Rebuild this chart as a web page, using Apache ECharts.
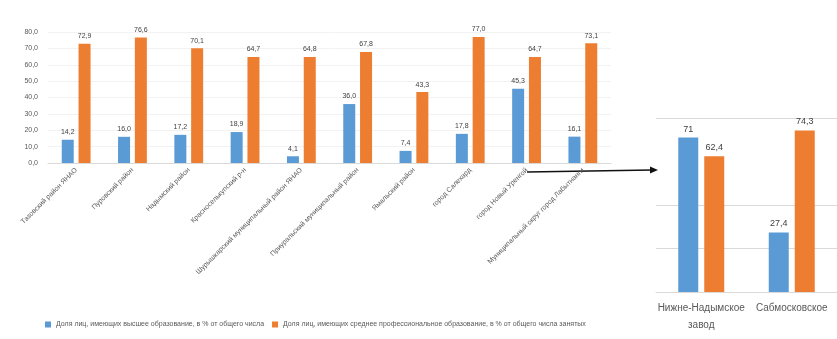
<!DOCTYPE html>
<html>
<head>
<meta charset="utf-8">
<script src="https://cdn.jsdelivr.net/npm/echarts@6/dist/echarts.min.js"></script>
<style>
  html, body { margin: 0; padding: 0; background: #fff; }
  #chart { width: 837px; height: 339px; }
</style>
</head>
<body>
<div id="chart"></div>
<script>
// Районы: доля занятых по уровню образования, %
const districts = [
  'Тазовский район ЯНАО',
  'Пуровский район',
  'Надымский район',
  'Красноселькупский р-н',
  'Шурышкарский муниципальный район ЯНАО',
  'Приуральский муниципальный район',
  'Ямальский район',
  'город Салехард',
  'город Новый Уренгой',
  'Муниципальный округ город Лабытнанги'
];
const higherShare = [14.2, 16.0, 17.2, 18.9, 4.1, 36.0, 7.4, 17.8, 45.3, 16.1];
const vocationalShare = [72.9, 76.6, 70.1, 64.7, 64.8, 67.8, 43.3, 77.0, 64.7, 73.1];

// Два месторождения
const fields = ['Нижне-Надымское\nзавод', 'Сабмосковское'];
const fieldHigher = [71, 27.4];
const fieldVocational = [62.4, 74.3];

const seriesNames = [
  'Доля лиц, имеющих высшее образование, в % от общего числа',
  'Доля лиц, имеющих среднее профессиональное образование, в % от общего числа занятых'
];

const BLUE = '#5B9BD5';
const ORANGE = '#ED7D31';
const FONT = 'Liberation Sans';
const GRID = '#d9d9d9';

const fmt = v => v.toFixed(1).replace('.', ',');
const fmtField = v => Number.isInteger(v) ? String(v) : v.toFixed(1).replace('.', ',');

const chart = echarts.init(document.getElementById('chart'), null, { renderer: 'canvas' });

chart.setOption({
  animation: false,
  textStyle: { fontFamily: FONT },
  legend: {
    left: 40,
    top: 316,
    itemWidth: 6,
    itemHeight: 6,
    itemGap: 8,
    icon: 'rect',
    textStyle: { fontSize: 7, color: '#595959', fontFamily: FONT },
    data: [seriesNames[0], seriesNames[1]]
  },
  grid: [
    { left: 48, right: 226, top: 32, bottom: 176 },
    { left: 656, width: 182, top: 118, bottom: 47 }
  ],
  xAxis: [
    {
      gridIndex: 0, type: 'category', data: districts,
      axisLine: { lineStyle: { color: GRID } },
      axisTick: { show: false },
      axisLabel: { rotate: 45, fontSize: 7, color: '#595959', margin: 6, interval: 0 }
    },
    {
      gridIndex: 1, type: 'category', data: fields,
      axisLine: { lineStyle: { color: GRID } },
      axisTick: { show: false },
      axisLabel: { fontSize: 10, color: '#595959', margin: 8, interval: 0, lineHeight: 17 }
    }
  ],
  yAxis: [
    {
      gridIndex: 0, type: 'value', min: 0, max: 80, interval: 10,
      axisLine: { show: false }, axisTick: { show: false },
      splitLine: { lineStyle: { color: '#f2f2f2' } },
      axisLabel: { fontSize: 7, color: '#595959', formatter: fmt, margin: 10 }
    },
    {
      gridIndex: 1, type: 'value', min: 0, max: 80, interval: 20,
      axisLine: { show: false }, axisTick: { show: false },
      // the 60 line is left out
      splitLine: { lineStyle: { color: [GRID, GRID, GRID, 'rgba(0,0,0,0)', GRID] } },
      axisLabel: { show: false }
    }
  ],
  series: [
    {
      name: seriesNames[0], type: 'bar', xAxisIndex: 0, yAxisIndex: 0,
      data: higherShare, barWidth: 12, barGap: '40%',
      itemStyle: { color: BLUE },
      label: { show: true, position: 'top', fontSize: 7, color: '#404040', distance: 4,
               formatter: p => fmt(p.value) }
    },
    {
      name: seriesNames[1], type: 'bar', xAxisIndex: 0, yAxisIndex: 0,
      data: vocationalShare, barWidth: 12, barGap: '40%',
      itemStyle: { color: ORANGE },
      label: { show: true, position: 'top', fontSize: 7, color: '#404040', distance: 4,
               formatter: p => fmt(p.value) }
    },
    {
      name: seriesNames[0], type: 'bar', xAxisIndex: 1, yAxisIndex: 1,
      data: fieldHigher, barWidth: 20, barGap: '30%',
      itemStyle: { color: BLUE },
      label: { show: true, position: 'top', fontSize: 9, color: '#404040', distance: 4,
               formatter: p => fmtField(p.value) }
    },
    {
      name: seriesNames[1], type: 'bar', xAxisIndex: 1, yAxisIndex: 1,
      data: fieldVocational, barWidth: 20, barGap: '30%',
      itemStyle: { color: ORANGE },
      label: { show: true, position: 'top', fontSize: 9, color: '#404040', distance: 4,
               formatter: p => fmtField(p.value) }
    }
  ],
  graphic: [
    {
      type: 'line',
      shape: { x1: 527, y1: 172, x2: 652, y2: 170 },
      style: { stroke: '#111', lineWidth: 1.6 }
    },
    {
      type: 'polygon',
      shape: { points: [[658, 170], [650, 166.5], [650, 173.5]] },
      style: { fill: '#111' }
    }
  ]
});
</script>
</body>
</html>
